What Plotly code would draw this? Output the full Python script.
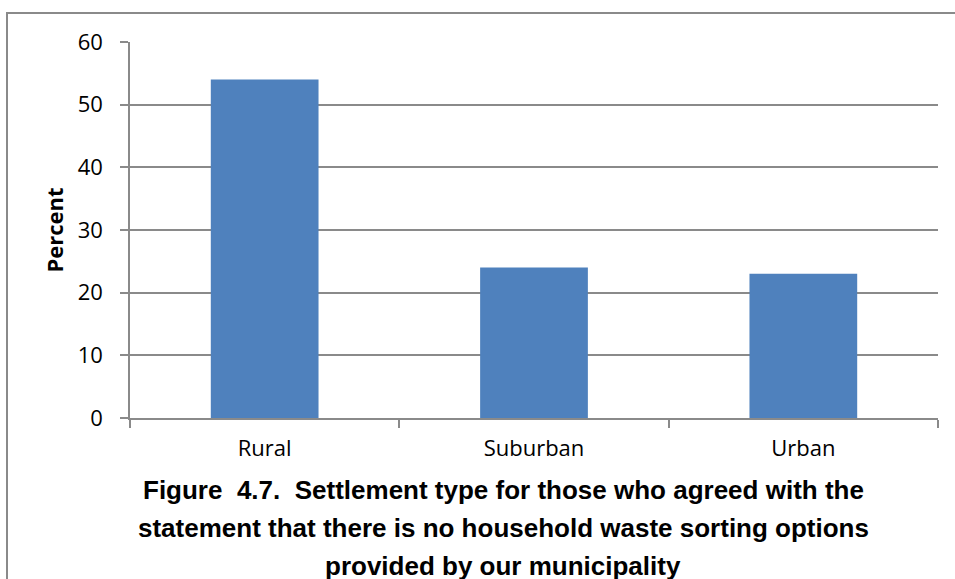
import plotly.graph_objects as go

categories = ["Rural", "Suburban", "Urban"]
values = [54, 24, 23]
y_ticks = [0, 10, 20, 30, 40, 50, 60]
title_lines = [
    "Figure  4.7.  Settlement type for those who agreed with the",
    "statement that there is no household waste sorting options",
    "provided by our municipality",
]

W, H = 955, 579
L, R, T, B = 130, 17, 42, 161
pw, ph = W - L - R, H - T - B

grid = "#8a8a8a"
fig = go.Figure(go.Bar(x=categories, y=values, marker_color="#4F81BD",
                       marker_line_width=0))

fig.update_layout(
    width=W, height=H,
    margin=dict(l=L, r=R, t=T, b=B, autoexpand=False),
    paper_bgcolor="white", plot_bgcolor="white",
    bargap=0.6, showlegend=False,
    font=dict(family="Open Sans, Noto Sans, sans-serif", size=22, color="black"),
)
fig.update_yaxes(range=[0, 60], tickvals=y_ticks, showgrid=True, gridcolor=grid,
                 gridwidth=1.5, showline=True, linecolor=grid, linewidth=1.5,
                 ticks="outside", ticklen=8, tickcolor=grid, tickwidth=1.5,
                 ticklabelstandoff=13, zeroline=False,
                 title=dict(text="<b>Percent</b>", font=dict(size=22), standoff=8))
fig.update_xaxes(showgrid=False, showline=True, linecolor=grid, linewidth=1.5,
                 ticks="outside", ticklen=8, tickcolor=grid, tickwidth=1.5,
                 tickson="boundaries", ticklabelstandoff=10)

# outer border (top and left visible)
fig.add_shape(type="rect", xref="paper", yref="paper",
              x0=(7 - L) / pw, x1=1.2, y0=-0.6, y1=(H - B - 13) / ph,
              line=dict(color=grid, width=2), fillcolor="rgba(0,0,0,0)", layer="below")

title_y = [490, 528, 566]
for line, yp in zip(title_lines, title_y):
    fig.add_annotation(text="<b>" + line + "</b>", xref="paper", yref="paper",
                       x=(503 - L) / pw, y=(H - B - yp) / ph, showarrow=False,
                       xanchor="center", yanchor="middle",
                       font=dict(family="Liberation Sans, Arial, sans-serif",
                                 size=26, color="black"))

fig.write_html("out.html")
